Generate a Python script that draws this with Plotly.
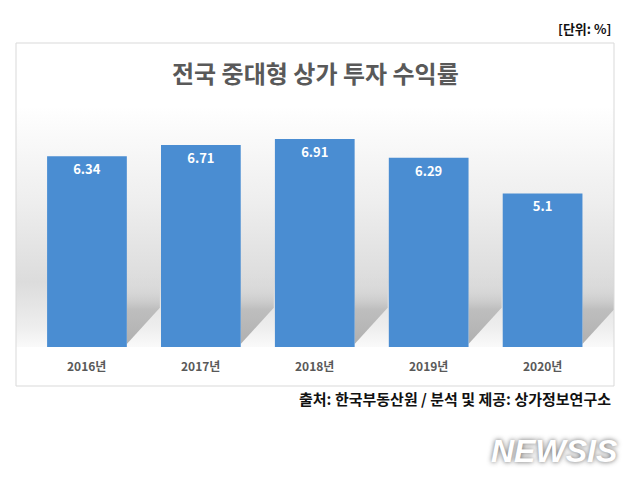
import plotly.graph_objects as go

categories = ["2016년", "2017년", "2018년", "2019년", "2020년"]
values = [6.34, 6.71, 6.91, 6.29, 5.1]
title_text = "전국 중대형 상가 투자 수익률"
unit_text = "[단위: %]"
source_text = "출처: 한국부동산원 / 분석 및 제공: 상가정보연구소"

W, H = 639, 479
L, R, T, B = 16, 614, 43, 386  # chart box in pixels
BAR_W = 0.7
XR = [-0.623, 4.627]
YR = [-1.296, 10.10]
FONT = "Noto Sans CJK KR"


def px(xp):
    return (xp - L) / (R - L)


def py(yp):
    return (B - yp) / (B - T)


fig = go.Figure()

# soft gray backdrop band behind bars
fig.add_trace(go.Scatter(
    x=[XR[0], XR[1], XR[1], XR[0], XR[0]], y=[0, 0, 8.0, 8.0, 0],
    fill="toself", mode="lines", line=dict(width=0),
    fillgradient=dict(type="vertical", start=0, stop=8.0,
                      colorscale=[[0, "rgba(250,250,250,1)"], [0.08, "rgba(238,238,238,1)"],
                                  [0.27, "rgba(220,220,220,1)"], [0.6, "rgba(238,238,238,1)"],
                                  [1, "rgba(255,255,255,1)"]]),
    hoverinfo="skip", showlegend=False))

# diagonal cast shadows to the right of each bar
for i in range(len(categories)):
    xr = i + BAR_W / 2
    fig.add_trace(go.Scatter(
        x=[xr, xr + 0.29, xr + 0.29, xr, xr], y=[0.1, 1.3, 2.4, 2.4, 0.1],
        fill="toself", mode="lines", line=dict(width=0),
        fillgradient=dict(type="vertical", start=0.1, stop=2.4,
                          colorscale=[[0, "rgba(176,176,176,1)"], [0.5, "rgba(190,190,190,1)"],
                                      [1, "rgba(220,220,220,0)"]]),
        hoverinfo="skip", showlegend=False))

fig.add_trace(go.Bar(
    x=list(range(len(categories))), y=values, width=BAR_W,
    xaxis="x2", yaxis="y2",
    marker=dict(color="#4a8dd2", line=dict(width=0)),
    texttemplate="%{y}", textposition="inside", insidetextanchor="end", textangle=0,
    textfont=dict(family=FONT, size=13, color="white", weight="bold"),
    hoverinfo="skip", showlegend=False))

for i, c in enumerate(categories):
    fig.add_annotation(x=i, y=-0.62, xref="x", yref="y", text=c, showarrow=False,
                       font=dict(family=FONT, size=12, color="#595959", weight="bold"))

fig.add_annotation(x=px(315), y=py(73), xref="paper", yref="paper", text=title_text,
                   showarrow=False, yanchor="middle",
                   font=dict(family=FONT, size=24, color="#595959", weight="bold"))
fig.add_annotation(x=px(613), y=py(28), xref="paper", yref="paper", text=unit_text,
                   showarrow=False, xanchor="right", yanchor="middle",
                   font=dict(family=FONT, size=13, color="#111111", weight="bold"))
fig.add_annotation(x=px(613), y=py(398), xref="paper", yref="paper", text=source_text,
                   showarrow=False, xanchor="right", yanchor="middle",
                   font=dict(family=FONT, size=15, color="#111111", weight="bold"))
fig.add_annotation(x=px(554), y=py(451), xref="paper", yref="paper", text="<i>NEWSIS</i>",
                   showarrow=False, xanchor="center", yanchor="middle",
                   font=dict(family="Liberation Sans", size=32, color="white", weight="bold",
                             shadow="0px 0px 5px rgba(80,80,80,0.9)"))

fig.add_shape(type="rect", xref="paper", yref="paper", x0=0, x1=1, y0=0, y1=1,
              line=dict(color="#d9d9d9", width=1), fillcolor="rgba(0,0,0,0)", layer="above")

fig.update_layout(
    width=W, height=H,
    margin=dict(l=L, r=W - R, t=T, b=H - B),
    paper_bgcolor="white", plot_bgcolor="white",
    xaxis=dict(range=XR, visible=False, fixedrange=True),
    yaxis=dict(range=YR, visible=False, fixedrange=True),
    xaxis2=dict(range=XR, visible=False, fixedrange=True, overlaying="x"),
    yaxis2=dict(range=YR, visible=False, fixedrange=True, overlaying="y"),
    bargap=0.3,
)

fig.write_html("out.html", config={"displayModeBar": False},
               post_script="document.body.style.margin='0';document.body.style.padding='0';")
